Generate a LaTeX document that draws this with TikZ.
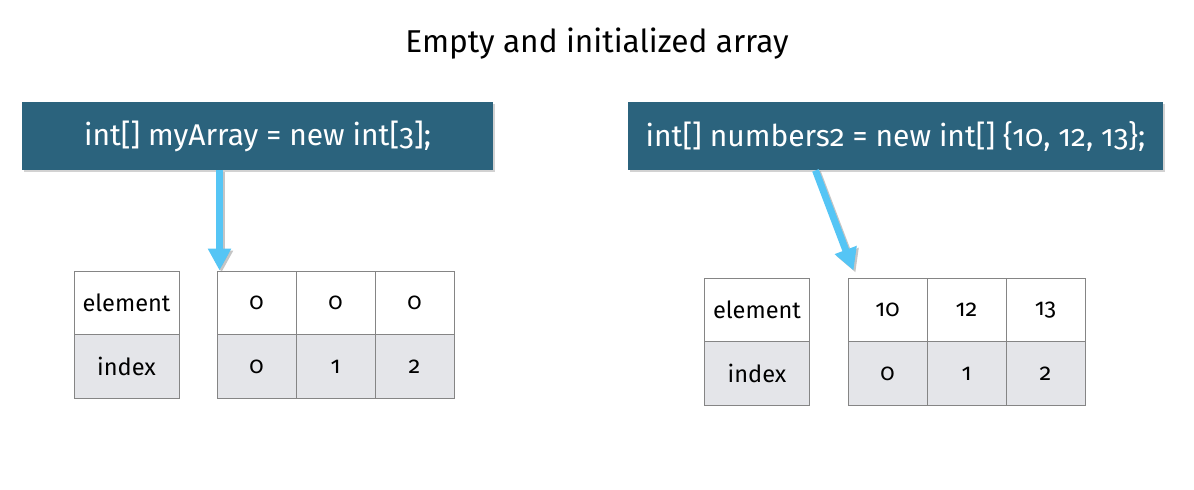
\documentclass[tikz,border=0pt]{standalone}
\usepackage{fontspec}
\setmainfont[Numbers=OldStyle]{Fira Sans}
\usetikzlibrary{arrows.meta,shadows}

\definecolor{codeblue}{HTML}{2B637D}
\definecolor{arrowblue}{HTML}{55C5F5}
\definecolor{cellgray}{HTML}{E4E5E9}
\definecolor{cellline}{HTML}{858585}

\tikzset{
    codebox/.style={fill=codeblue, text=white, inner sep=0pt,
        minimum height=34pt, font=\fontsize{15}{17}\selectfont,
        drop shadow={shadow xshift=0.8pt, shadow yshift=-1.2pt, opacity=0.35}},
    cell/.style={draw=cellline, line width=0.5pt, inner sep=0pt,
        minimum width=39.5pt, minimum height=32pt,
        font=\fontsize{11.8}{13}\selectfont},
    labelcell/.style={cell, minimum width=52.5pt},
    idx/.style={fill=cellgray},
    pointer/.style={arrowblue, line width=3.5pt,
        -{Triangle[width=11pt,length=11pt]}},
    pointershadow/.style={black!45, opacity=0.5, line width=3.5pt,
        -{Triangle[width=11pt,length=11pt]}}
}

\begin{document}
\begin{tikzpicture}[x=0.5pt,y=-0.5pt]
    \useasboundingbox[fill=white] (0,0) rectangle (1194,489);

    % title
    \node[anchor=base, font=\fontsize{15.8}{18}\selectfont] (title) at (597,52)
        {Empty and initialized array};

    % declarations
    \node[codebox, minimum width=235.5pt] (lcode) at (257.5,136)
        {int[] myArray = new int[3];};
    \node[codebox, minimum width=267.5pt] (rcode) at (895.5,136)
        {int[] numbers2 = new int[] \{10, 12, 13\};};

    % left table
    \node[labelcell] (lel) at (126.5,303) {element};
    \node[labelcell, idx] (lix) at (126.5,366.5) {index};
    \foreach \v [count=\i from 0] in {0,0,0}
    {
        \node[cell] (lv\i) at (256.5+79*\i,303) {\v};
        \node[cell, idx] (li\i) at (256.5+79*\i,366.5) {\i};
    }

    % right table
    \node[labelcell] (rel) at (757,310) {element};
    \node[labelcell, idx] (rix) at (757,373.5) {index};
    \foreach \v [count=\i from 0] in {10,12,13}
    {
        \node[cell] (rv\i) at (887.5+79*\i,310) {\v};
        \node[cell, idx] (ri\i) at (887.5+79*\i,373.5) {\i};
    }

    % pointers
    \coordinate (ltip) at ([xshift=1.5pt]lv0.north west);
    \coordinate (rtip) at ([xshift=3pt,yshift=3.5pt]rv0.north west);
    \coordinate (lfrom) at (lcode.south -| ltip);
    \coordinate (rfrom) at ([xshift=-40pt]rcode.south);
    \draw[pointershadow] ([xshift=1pt,yshift=-1pt]lfrom) -- ([xshift=1pt,yshift=-1pt]ltip);
    \draw[pointershadow] ([xshift=1pt,yshift=-1pt]rfrom) -- ([xshift=1pt,yshift=-1pt]rtip);
    \draw[pointer] (lfrom) -- (ltip);
    \draw[pointer] (rfrom) -- (rtip);
\end{tikzpicture}
\end{document}
